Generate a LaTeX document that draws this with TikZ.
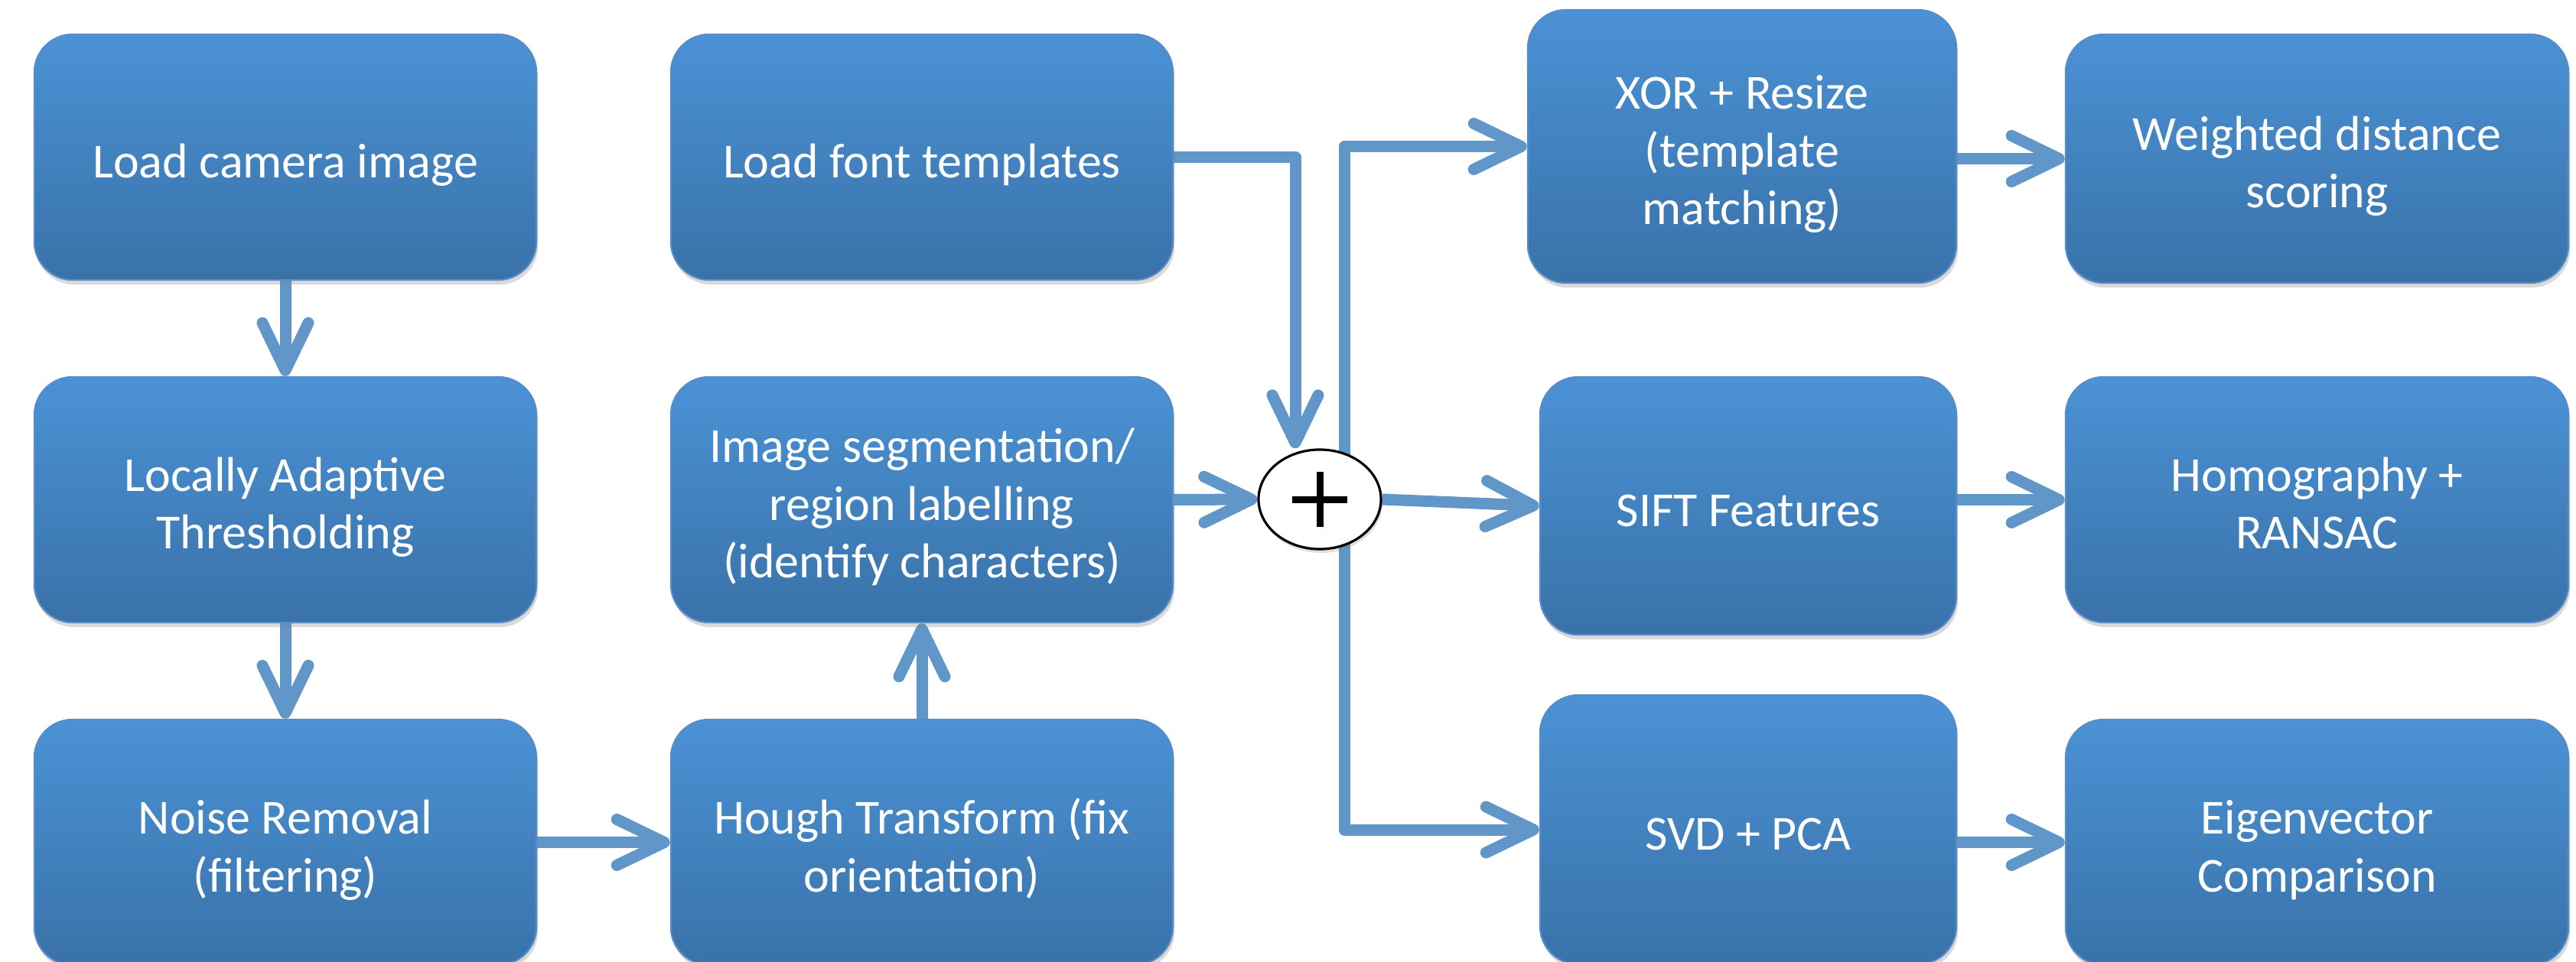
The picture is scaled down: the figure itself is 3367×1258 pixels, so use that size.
\documentclass[tikz,border=0pt]{standalone}
\usepackage{fontspec}
\setmainfont{Carlito}
\usetikzlibrary{arrows.meta,shapes.geometric,shadows,backgrounds}
\definecolor{boxtop}{RGB}{75,146,213}
\definecolor{boxbot}{RGB}{57,114,169}
\definecolor{boxedge}{RGB}{88,140,200}
\definecolor{arrowc}{RGB}{97,150,200}
\newcommand{\boxstrut}{\rule{0pt}{0.73cm}}
\begin{document}
\begin{tikzpicture}[x=0.01cm,y=-0.01cm,
  box/.style={rounded corners=0.5cm, top color=boxtop, bottom color=boxbot,
    draw=boxedge, line width=0.6pt, text=white, align=center, inner sep=0pt,
    font=\fontsize{18.2}{21.6}\selectfont,
    execute at end node={\rule[-0.2cm]{0pt}{0pt}},
    drop shadow={shadow xshift=0.02cm, shadow yshift=-0.06cm, opacity=0.3}},
  stdbox/.style={box, minimum width=6.56cm, minimum height=3.21cm},
  conn/.style={draw=arrowc, line width=0.15cm, line join=round,
    -{Straight Barb[length=0.62cm, width=0.6cm, round]}},
]
\useasboundingbox (0,0) rectangle (3367,1258);
\clip (0,0) rectangle (3367,1258);

% column 1
\node[stdbox] (cam)   at (373,205.5)  {\boxstrut Load camera image};
\node[stdbox] (thr)   at (373,653.5)  {\boxstrut Locally Adaptive\\Thresholding};
\node[stdbox] (noise) at (373,1101.5) {\boxstrut Noise Removal\\(filtering)};
% column 2
\node[stdbox] (font)  at (1205,205.5)  {\boxstrut Load font templates};
\node[stdbox] (seg)   at (1205,653.5)  {\boxstrut Image segmentation/\\region labelling\\(identify characters)};
\node[stdbox] (hough) at (1205,1101.5) {\boxstrut Hough Transform (fix\\orientation)};
% column 3
\node[box, minimum width=5.6cm, minimum height=3.57cm] (xor) at (2277,191.5) {\boxstrut XOR + Resize\\(template\\matching)};
\node[box, minimum width=5.44cm, minimum height=3.37cm] (sift) at (2285,661.5) {\boxstrut SIFT Features};
\node[box, minimum width=5.44cm, minimum height=3.52cm] (svd) at (2285,1085) {\boxstrut SVD + PCA};
% column 4
\node[box, minimum width=6.57cm, minimum height=3.25cm] (wds) at (3028.5,207.5) {\boxstrut Weighted distance\\scoring};
\node[box, minimum width=6.57cm, minimum height=3.21cm] (homo) at (3028.5,653.5) {\boxstrut Homography +\\RANSAC};
\node[box, minimum width=6.57cm, minimum height=3.21cm] (eig) at (3028.5,1101.5) {\boxstrut Eigenvector\\Comparison};

% summing junction
\node[ellipse, draw=black, line width=0.9pt, fill=white, minimum width=1.6cm,
  minimum height=1.3cm, inner sep=0pt,
  drop shadow={shadow xshift=0.02cm, shadow yshift=-0.05cm, opacity=0.25}] (c) at (1725,653) {};
\draw[line width=0.09cm] ([xshift=-0.36cm]c.center) -- ([xshift=0.36cm]c.center);
\draw[line width=0.09cm] ([yshift=-0.36cm]c.center) -- ([yshift=0.36cm]c.center);

\coordinate (cin) at ([xshift=-0.32cm]c.north);
\coordinate (cout) at ([xshift=0.32cm]c.center);

\begin{pgfonlayer}{background}
\draw[conn] (cam) -- (thr);
\draw[conn] (thr) -- (noise);
\draw[conn] (noise) -- (hough);
\draw[conn] (hough) -- (seg);
\draw[conn] (font.east) -| (cin);
\draw[conn] (seg.east) -- (c.west);
\draw[conn] (cout) |- (xor.west);
\draw[conn] (c.east) -- (sift.west);
\draw[conn] (cout) |- (svd.west);
\draw[conn] (xor.east |- wds.west) -- (wds.west);
\draw[conn] (sift.east |- homo.west) -- (homo.west);
\draw[conn] (svd.east |- eig.west) -- (eig.west);
\end{pgfonlayer}
\end{tikzpicture}
\end{document}
